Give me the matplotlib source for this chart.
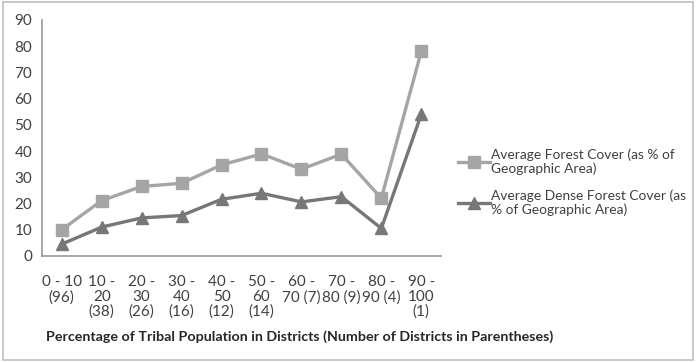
import matplotlib
matplotlib.use("Agg")
import matplotlib.pyplot as plt
from matplotlib.patches import Rectangle

# tribal share bands (district counts in parentheses)
categories = ["0 - 10\n(96)", "10 -\n20\n(38)", "20 -\n30\n(26)", "30 -\n40\n(16)",
              "40 -\n50\n(12)", "50 -\n60\n(14)", "60 -\n70 (7)", "70 -\n80 (9)",
              "80 -\n90 (4)", "90 -\n100\n(1)"]
forest_cover = [10.0, 21.1, 26.5, 27.7, 34.7, 38.9, 33.1, 38.8, 22.0, 78.0]
dense_cover = [4.5, 11.0, 14.5, 15.4, 21.6, 23.9, 20.6, 22.6, 10.5, 54.0]
yticks = list(range(0, 91, 10))

plt.rcParams["font.family"] = ["Lato", "DejaVu Sans"]

fig = plt.figure(figsize=(6.96, 3.62), dpi=100)
ax = fig.add_axes([0.060, 0.293, 0.574, 0.652])

x = range(len(categories))
ax.plot(x, forest_cover, color="#a5a5a5", lw=2.4, marker="s", ms=9,
        label="Average Forest Cover (as % of\nGeographic Area)")
ax.plot(x, dense_cover, color="#777777", lw=2.4, marker="^", ms=9,
        label="Average Dense Forest Cover (as\n% of Geographic Area)")

ax.set_xlim(-0.5, len(categories) - 0.5)
ax.set_ylim(0, 90)
ax.set_yticks(yticks)
ax.set_xticks(list(x))
ax.set_xticklabels(categories, fontsize=11, color="#404040", linespacing=1.05,
                   va="top")
ax.tick_params(axis="y", length=0, pad=7, labelsize=11, labelcolor="#404040")
ax.tick_params(axis="x", length=0, pad=14)
for s in ("top", "right"):
    ax.spines[s].set_visible(False)
for s in ("left", "bottom"):
    ax.spines[s].set_color("#999999")
    ax.spines[s].set_linewidth(1.2)

ax.set_xlabel("Percentage of Tribal Population in Districts (Number of Districts in Parentheses)",
              fontsize=10.3, fontweight="bold", color="#262626")
ax.xaxis.set_label_coords(0.01, -0.315)
ax.xaxis.label.set_horizontalalignment("left")

ax.legend(loc="center left", bbox_to_anchor=(0.650, 0.497), bbox_transform=fig.transFigure,
          frameon=False, fontsize=9.9, handlelength=2.3, handletextpad=0.1,
          labelspacing=1.0, borderaxespad=0, labelcolor="#404040")

# thin frame around the whole chart
fig.patches.append(Rectangle((0.004, 0.006), 0.992, 0.988, transform=fig.transFigure,
                             fill=False, edgecolor="#bfbfbf", lw=1.2))

fig.savefig("out.png", dpi=100)
